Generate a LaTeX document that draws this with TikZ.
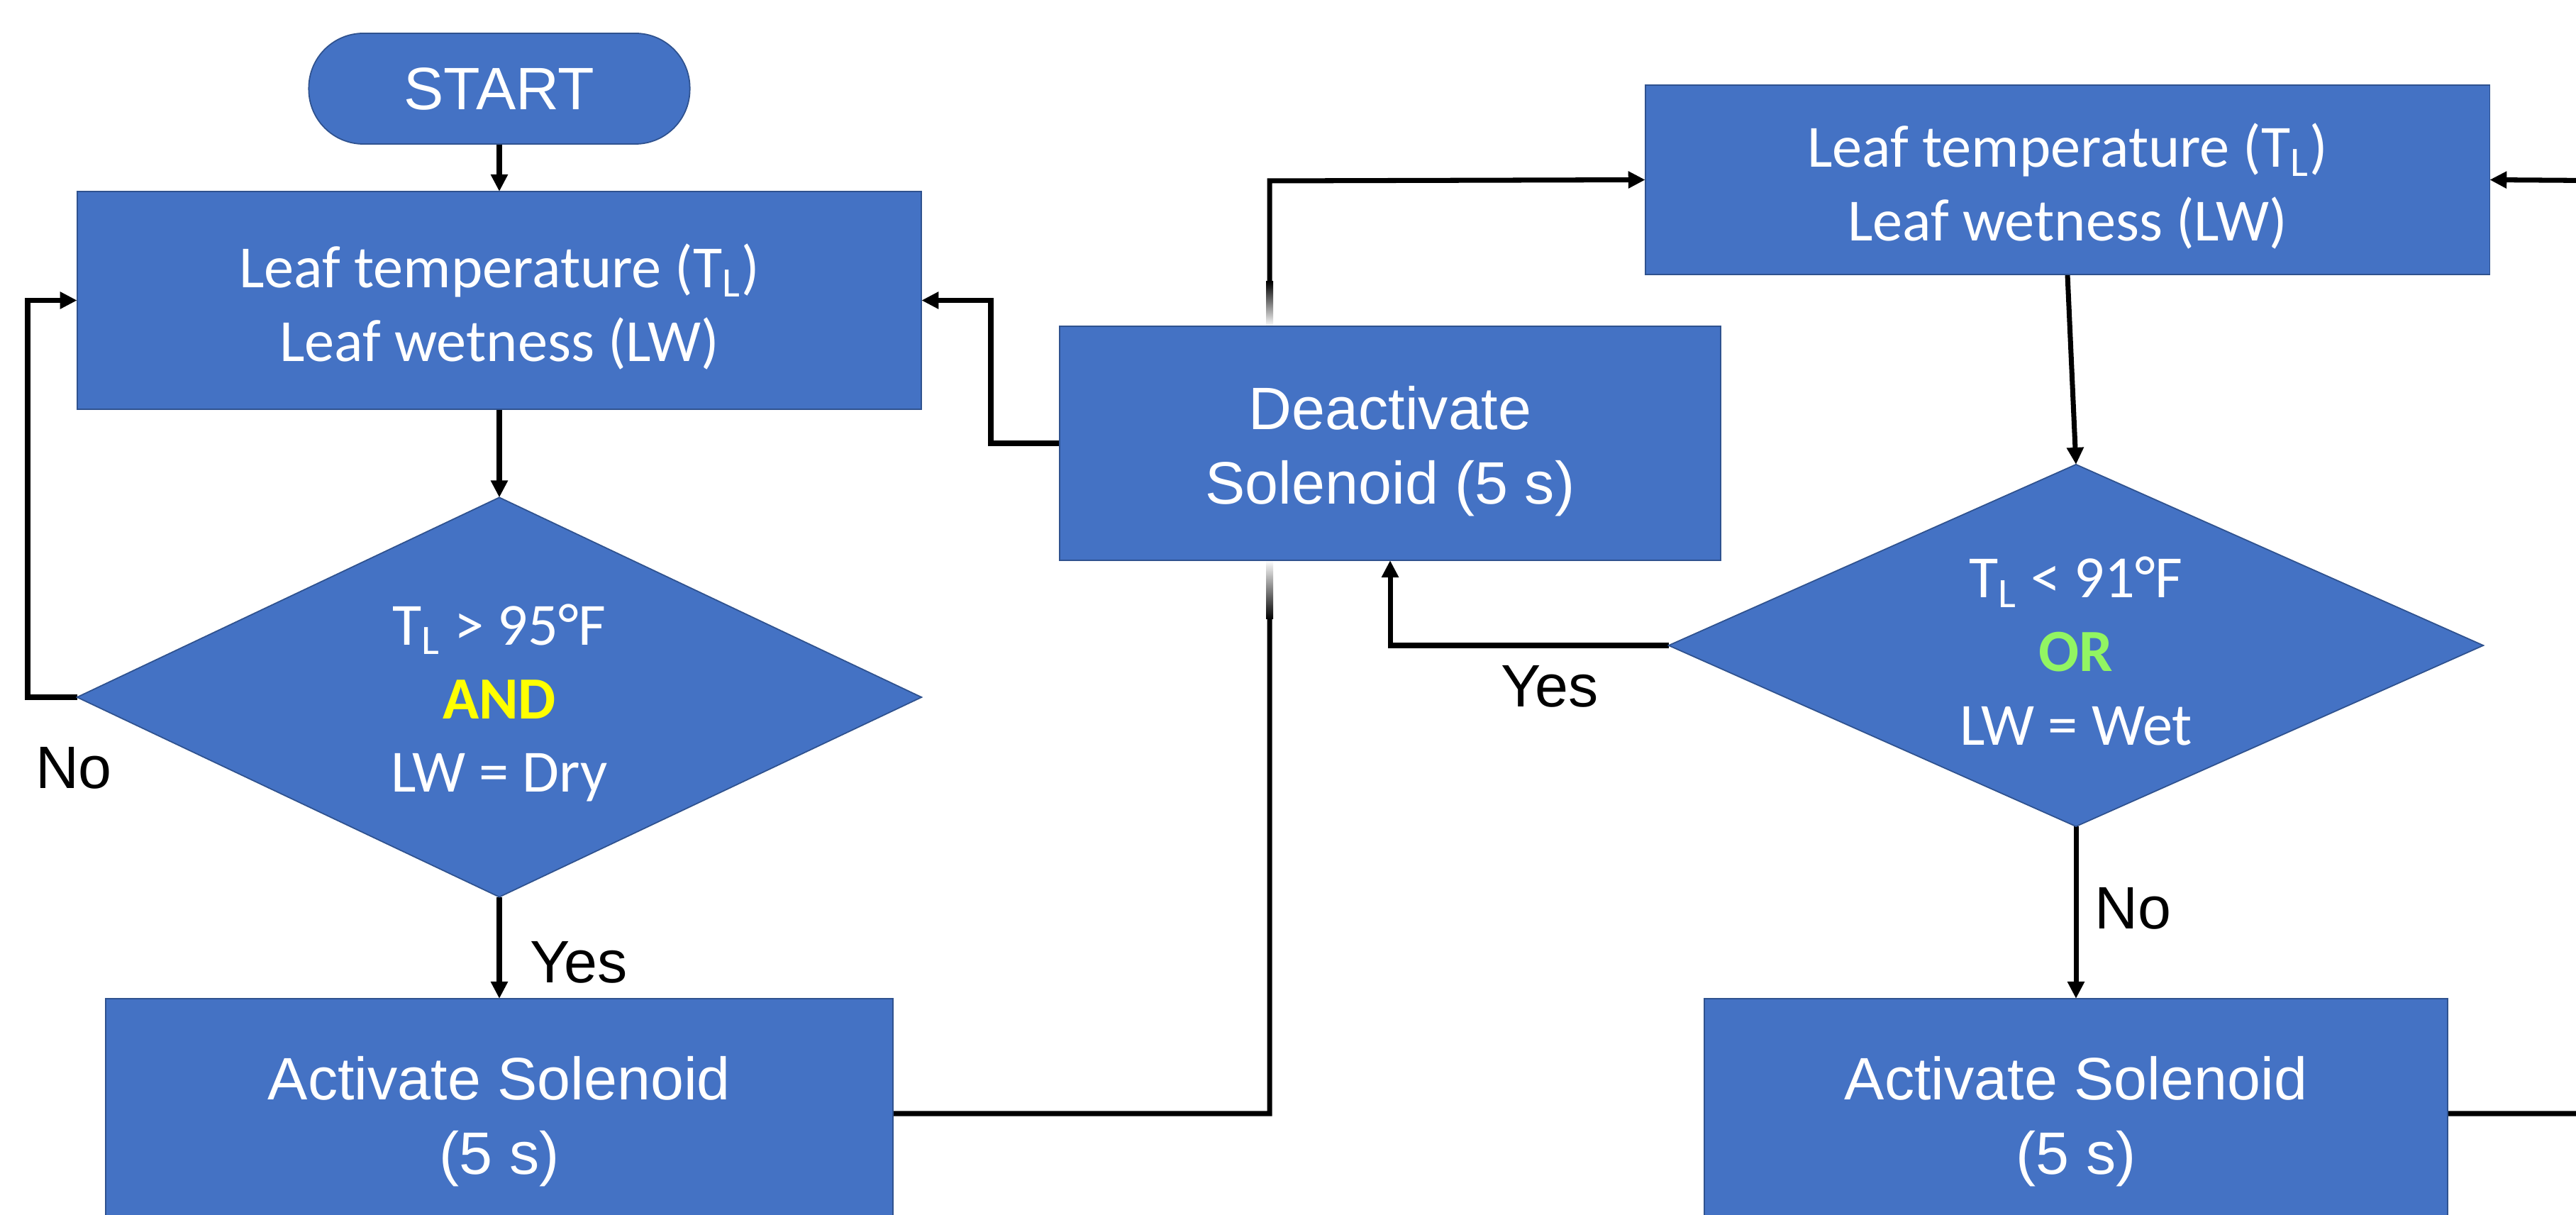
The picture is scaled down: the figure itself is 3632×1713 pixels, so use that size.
\documentclass[tikz,border=0pt]{standalone}
\usepackage{fontspec}
\setmainfont{Carlito}
\newfontfamily\arialf{Liberation Sans}
\usetikzlibrary{arrows.meta,shapes.geometric,backgrounds}
\definecolor{boxblue}{HTML}{4472C4}
\definecolor{boxedge}{HTML}{2F528F}
\definecolor{andyellow}{HTML}{FFFF00}
\definecolor{orgreen}{HTML}{92F562}
\newcommand{\upA}{\rule{0pt}{0.83cm}}
\newcommand{\upR}{\rule{0pt}{0.79cm}}
\newcommand{\upD}{\rule{0pt}{0.74cm}}
\tikzset{
  blk/.style={draw=boxedge, line width=0.5pt, fill=boxblue, text=white, inner sep=0pt, outer sep=0pt,
              font=\fontsize{24}{29.5}\selectfont, align=center},
  termbox/.style={blk, rectangle, font=\arialf\fontsize{24}{30}\selectfont},
  rbox/.style={blk, rectangle},
  abox/.style={blk, rectangle, font=\arialf\fontsize{24}{30}\selectfont},
  dbox/.style={blk, diamond},
  conn/.style={line width=2pt, -{Triangle[length=6.8pt,width=6.5pt]}},
  lbl/.style={font=\arialf\fontsize{24}{29}\selectfont, text=black, inner sep=0pt},
}
\begin{document}
\begin{tikzpicture}[x=0.01cm,y=-0.01cm]
\useasboundingbox (0,0) rectangle (3632,1713);
% nodes
\node[termbox, rounded corners=0.77cm, minimum width=5.37cm, minimum height=1.56cm] (start) at (704,125) {START};
\node[rbox, minimum width=11.9cm, minimum height=3.07cm] (rect1) at (704,423.5) {\upR Leaf temperature (T\textsubscript{L})\\Leaf wetness (LW)};
\node[dbox, aspect=2.11, minimum width=11.9cm, minimum height=5.63cm] (dia1) at (704,983) {\upD T\textsubscript{L} > 95°F\\\textbf{\textcolor{andyellow}{AND}}\\LW = Dry};
\node[abox, minimum width=11.1cm, minimum height=3.24cm] (act1) at (704,1570) {\upA Activate Solenoid\\(5 s)};
\node[abox, minimum width=9.31cm, minimum height=3.30cm] (deact) at (1960,625) {\upA Deactivate\\Solenoid (5 s)};
\node[rbox, minimum width=11.9cm, minimum height=2.67cm] (rect2) at (2915,253.5) {\upR Leaf temperature (T\textsubscript{L})\\Leaf wetness (LW)};
\node[dbox, aspect=2.25, minimum width=11.48cm, minimum height=5.10cm] (dia2) at (2927,910) {\upD T\textsubscript{L} < 91°F\\\textbf{\textcolor{orgreen}{OR}}\\LW = Wet};
\node[abox, minimum width=10.47cm, minimum height=3.24cm] (act2) at (2927,1570) {\upA Activate Solenoid\\(5 s)};
% labels
\node[lbl] (noA) at (104,1083) {No};
\node[lbl] (yesA) at (816,1357) {Yes};
\node[lbl] (yesB) at (2185,968) {Yes};
\node[lbl] (noB) at (3007,1281) {No};
% bend points
\coordinate (loopL) at (39,983);
\coordinate (j1) at (1790,255);
\coordinate (loopM) at (1397,625);
\coordinate (j2) at (3720,255);
\begin{scope}[on background layer]
\draw[conn] (start.south) -- (rect1.north);
\draw[conn] (rect1.south) -- (dia1.north);
\draw[conn] (dia1.south) -- (act1.north);
\draw[conn] (dia1.west) -- (loopL) |- (rect1.west);
\draw[conn] (act1.east) -| (j1) -- (rect2.west);
\draw[conn] (deact.west) -- (loopM) |- (rect1.east);
\draw[conn] (rect2.south) -- (dia2.north);
\draw[conn] (dia2.west) -| (deact.south);
\draw[conn] (dia2.south) -- (act2.north);
\draw[conn] (act2.east) -| (j2) -- (rect2.east);
\shade[top color=black,bottom color=white] (1785,397) rectangle (1795,460);
\shade[top color=white,bottom color=black] (1785,790) rectangle (1795,873);
\end{scope}
\end{tikzpicture}
\end{document}
